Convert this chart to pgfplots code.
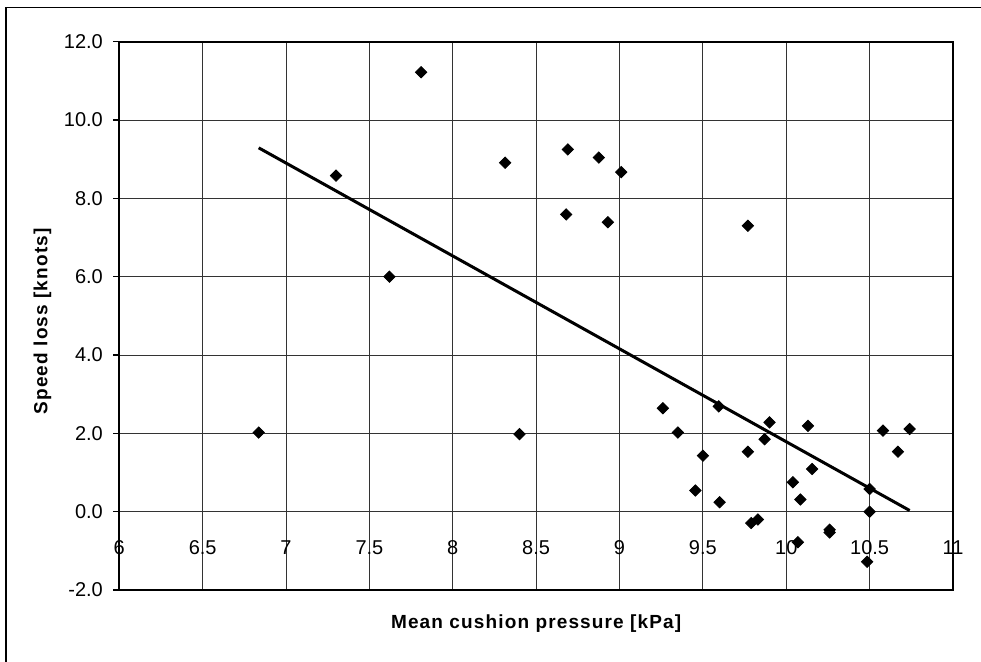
\documentclass[border=0pt]{standalone}
\usepackage{fontspec}
\setmainfont{Liberation Sans}
\newfontfamily\lblfont[LetterSpace=6]{Liberation Sans}
\usepackage{pgfplots}
\pgfplotsset{compat=1.18}
\begin{document}
\begin{tikzpicture}
\path[use as bounding box] (-59.65pt,-36pt) rectangle (430.85pt,295pt);
\draw[black, line width=0.6pt] (-56.65pt,-36pt) -- (-56.65pt,291.25pt) -- (430.85pt,291.25pt);
\begin{axis}[
  at={(0pt,0pt)}, anchor=south west,
  scale only axis, width=416.85pt, height=274.15pt,
  xmin=6, xmax=11, ymin=-2, ymax=12,
  xtick={6,6.5,...,11}, ytick={-2,0,...,12},
  grid=major,
  major grid style={black!80, line width=0.5pt},
  axis line style={black, line width=0.9pt},
  ytick pos=left, tick align=outside, major tick length=3pt,
  ytick style={black, line width=0.6pt},
  xtick style={draw=none},
  /pgf/number format/assume math mode=true,
  yticklabel={\pgfmathprintnumber[fixed,fixed zerofill,precision=1]{\tick}},
  xticklabel style={font=\fontsize{10}{12}\selectfont, anchor=center, yshift=24pt},
  yticklabel style={font=\fontsize{10}{12}\selectfont, xshift=-1.7pt},
  xlabel={\lblfont\bfseries Mean cushion pressure [kPa]},
  ylabel={\lblfont\bfseries Speed loss [knots]},
  xlabel style={font=\fontsize{9.5}{11}\selectfont, at={(axis description cs:0.5,-0.062)}, anchor=center},
  ylabel style={font=\fontsize{9.5}{11}\selectfont, at={(axis description cs:-0.0921,0.49)}, anchor=center},
  clip=false,
]
\addplot[only marks, mark=square*, mark size=2pt, mark options={rotate=45, fill=black, draw=black}] coordinates {
(6.836,2.02) (7.30,8.58) (7.62,6.00) (7.81,11.22) (8.314,8.91) (8.40,1.98)
(8.69,9.25) (8.68,7.59) (8.876,9.04) (8.93,7.39) (9.01,8.67) (9.77,7.30)
(9.26,2.64) (9.35,2.02) (9.50,1.43) (9.455,0.54) (9.595,2.69) (9.60,0.24)
(9.77,1.53) (9.79,-0.29) (9.83,-0.20) (9.87,1.85) (9.90,2.28) (10.04,0.75)
(10.07,-0.78) (10.085,0.31) (10.13,2.19) (10.155,1.09) (10.26,-0.46) (10.26,-0.53)
(10.485,-1.28) (10.50,0.0) (10.50,0.58) (10.58,2.07) (10.67,1.53) (10.74,2.11)
};
\addplot[black, line width=1.5pt, no marks] coordinates {(6.836,9.29) (10.74,0.03)};
\end{axis}
\end{tikzpicture}
\end{document}
